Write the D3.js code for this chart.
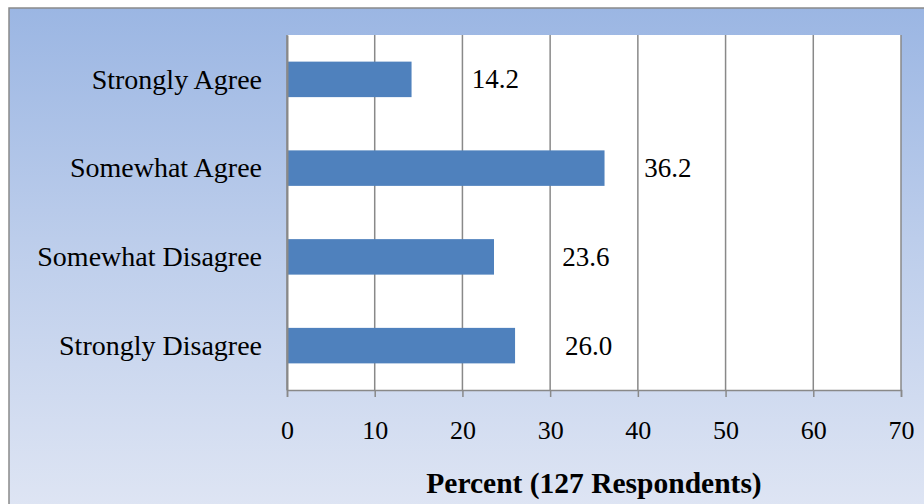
<!DOCTYPE html>
<html>
<head>
<meta charset="utf-8">
<script src="https://cdn.jsdelivr.net/npm/d3@7/dist/d3.min.js"></script>
<style>
  html, body { margin: 0; padding: 0; background: #ffffff; }
  svg { display: block; }
</style>
</head>
<body>
<svg id="chart" width="924" height="504"></svg>
<script>
// ---- data ----
const categories = ["Strongly Agree", "Somewhat Agree", "Somewhat Disagree", "Strongly Disagree"];
const percents = [14.2, 36.2, 23.6, 26.0];
const valueLabels = ["14.2", "36.2", "23.6", "26.0"];
const xTicks = [0, 10, 20, 30, 40, 50, 60, 70];
const axisTitle = "Percent (127 Respondents)";

// ---- layout (label placement, in data units past the bar end) ----
const labelShift = [6.86, 4.54, 7.79, 5.70];

const W = 924, H = 504;
const plot = { left: 287, right: 901, top: 35, bottom: 390 };
const FONT = "'Liberation Serif', 'Times New Roman', serif";

const svg = d3.select("#chart");
const defs = svg.append("defs");
const grad = defs.append("linearGradient")
  .attr("id", "bg").attr("x1", 0).attr("y1", 0).attr("x2", 0).attr("y2", 1);
grad.append("stop").attr("offset", "0%").attr("stop-color", "#9bb6e3");
grad.append("stop").attr("offset", "45%").attr("stop-color", "#bccdeb");
grad.append("stop").attr("offset", "100%").attr("stop-color", "#e0e6f4");

// outer chart area with border (extends beyond the right/bottom edge)
svg.append("rect")
  .attr("x", 9).attr("y", 8).attr("width", W + 10).attr("height", H + 10)
  .attr("fill", "url(#bg)")
  .attr("stroke", "#8a8a8a").attr("stroke-width", 1.5);

// plot area
svg.append("rect")
  .attr("x", plot.left).attr("y", plot.top)
  .attr("width", plot.right - plot.left).attr("height", plot.bottom - plot.top)
  .attr("fill", "#ffffff");

const x = d3.scaleLinear().domain([0, 70]).range([plot.left, plot.right]);
const y = d3.scaleBand().domain(categories).range([plot.top, plot.bottom])
  .paddingInner(0.6).paddingOuter(0.3);

// gridlines
svg.append("g").selectAll("line").data(xTicks).join("line")
  .attr("x1", d => x(d)).attr("x2", d => x(d))
  .attr("y1", plot.top).attr("y2", plot.bottom)
  .attr("stroke", "#898989").attr("stroke-width", 1.5);

// bars
svg.append("g").selectAll("rect").data(percents).join("rect")
  .attr("x", x(0))
  .attr("y", (d, i) => y(categories[i]))
  .attr("width", d => x(d) - x(0))
  .attr("height", y.bandwidth())
  .attr("fill", "#4f81bd");

// x axis
const xAxis = d3.axisBottom(x).tickValues(xTicks).tickSize(7).tickPadding(20)
  .tickFormat(d3.format("d"));
const gx = svg.append("g").attr("transform", `translate(0,${plot.bottom})`).call(xAxis);
gx.select(".domain").attr("stroke", "#898989").attr("stroke-width", 1.5);
gx.selectAll(".tick line").attr("stroke", "#898989").attr("stroke-width", 1.5);
gx.selectAll(".tick text")
  .attr("font-family", FONT).attr("font-size", 26).attr("fill", "#000")
  .attr("y", 49).attr("dy", 0);

// y axis
const yAxis = d3.axisLeft(y).tickSize(0).tickPadding(25);
const gy = svg.append("g").attr("transform", `translate(${plot.left},0)`).call(yAxis);
gy.select(".domain").attr("stroke", "#898989").attr("stroke-width", 2);
gy.selectAll(".tick text")
  .attr("font-family", FONT).attr("font-size", 28).attr("fill", "#000")
  .attr("dy", "0.33em");

// value labels
svg.append("g").selectAll("text").data(percents).join("text")
  .attr("x", (d, i) => x(d + labelShift[i]))
  .attr("y", (d, i) => y(categories[i]) + y.bandwidth() / 2)
  .attr("dy", "0.33em")
  .attr("font-family", FONT).attr("font-size", 27).attr("fill", "#000")
  .text((d, i) => valueLabels[i]);

// axis title
svg.append("text")
  .attr("x", (plot.left + plot.right) / 2).attr("y", 493)
  .attr("text-anchor", "middle")
  .attr("font-family", FONT).attr("font-size", 29.5).attr("font-weight", "bold")
  .attr("fill", "#000")
  .text(axisTitle);
</script>
</body>
</html>
